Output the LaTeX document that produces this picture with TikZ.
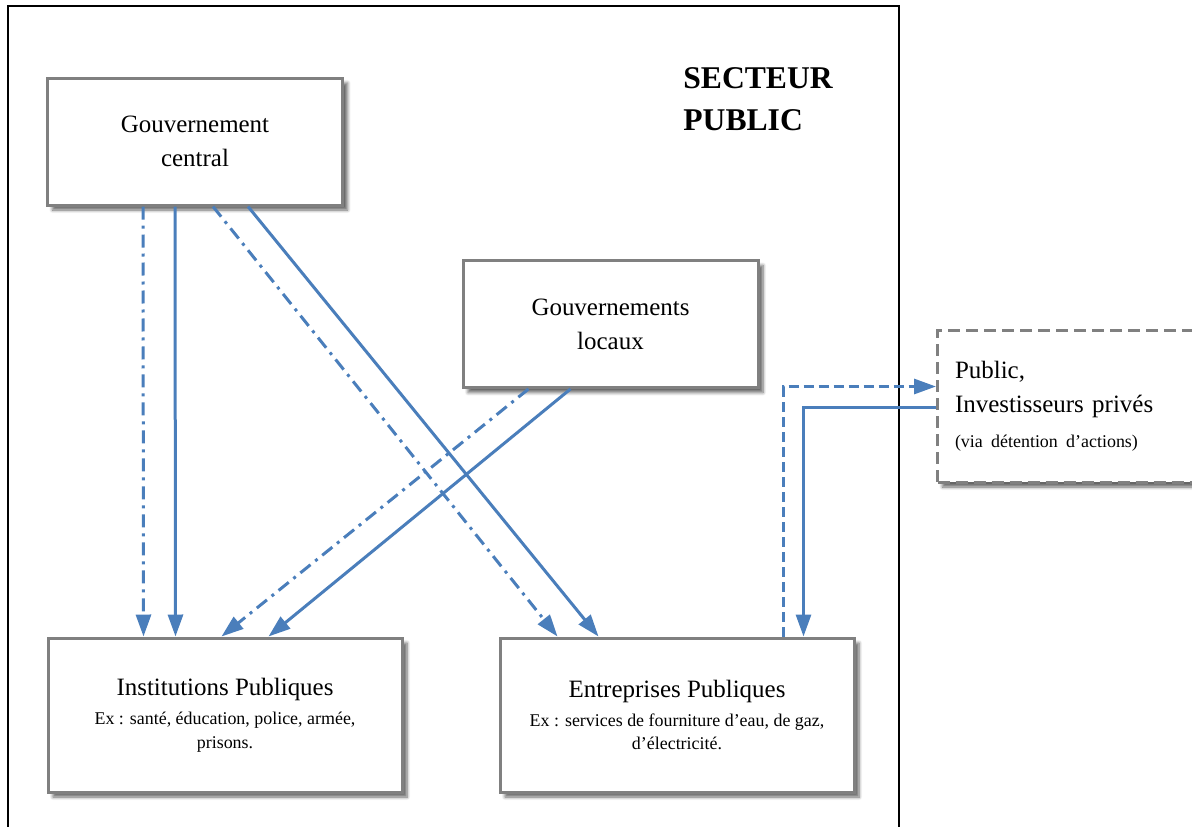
\documentclass[tikz,border=0pt]{standalone}
\usepackage{fontspec}
\setmainfont{Liberation Serif}
\usepackage{xcolor}
\usetikzlibrary{arrows.meta, positioning, shadows.blur}
\definecolor{lineblue}{HTML}{4A7EBB}
\definecolor{boxgray}{HTML}{808080}
\newcommand{\bigtxt}{\fontsize{14.2}{19.4}\selectfont}
\newcommand{\smalltxt}{\fontsize{10.2}{13.6}\selectfont}
\tikzset{
  govbox/.style={rectangle, draw=boxgray, line width=0.06cm, fill=white, minimum width=5.9cm, minimum height=2.54cm, align=center, font=\bigtxt, blur shadow={shadow xshift=0.1cm, shadow yshift=-0.1cm, shadow blur steps=6, shadow opacity=60}},
  instbox/.style={govbox, minimum width=7.08cm, minimum height=3.08cm, font=\smalltxt},
  investbox/.style={govbox, dash pattern=on 0.24cm off 0.12cm, text width=5.2cm, inner xsep=0.16cm, minimum height=3.04cm, align=left},
  arr/.style={-{Triangle[length=0.44cm, width=0.3cm]}, draw=lineblue, line width=0.06cm},
  dashdot/.style={dash pattern=on 0.26cm off 0.12cm on 0.06cm off 0.12cm},
  shortdash/.style={dash pattern=on 0.2cm off 0.1cm},
}

\begin{document}
\begin{tikzpicture}
  \clip (0,0) rectangle (23.84,-16.54);

  % Frame of the public sector
  \draw[line width=0.04cm] (0.16,-0.12) rectangle (17.98,-17.2);
  \node[font=\fontsize{18}{23.9}\selectfont\bfseries, align=left, anchor=west, inner sep=0] (title) at (13.66,-1.98) {SECTEUR\\PUBLIC};

  % Governments
  \node[govbox] (gc) at (3.9,-2.83) {Gouvernement\\central};
  \node[govbox] (gl) at (12.21,-6.48) {Gouvernements\\locaux};

  % Institutions and enterprises
  \node[instbox] (ip) at (4.5,-14.3) {{\bigtxt Institutions Publiques}\\[0.1cm]Ex : santé, éducation, police, armée,\\prisons.};
  \node[instbox, right=1.9cm of ip] (ep) {{\bigtxt Entreprises Publiques}\\[0.1cm]Ex : services de fourniture d’eau, de gaz,\\d’électricité.};

  % Investors
  \node[investbox, anchor=west] (pub) at (18.72,-8.12) {Public,\\Investisseurs privés\\[0.02cm]\smalltxt (via détention d’actions)};

  % Arrows
  \draw[arr, dashdot] ([xshift=1.94cm]gc.south west) -- ([xshift=1.94cm]ip.north west);
  \draw[arr] ([xshift=2.58cm]gc.south west) -- ([xshift=2.58cm]ip.north west);
  \draw[arr, dashdot] ([xshift=3.34cm]gc.south west) -- ([xshift=1.18cm]ep.north west);
  \draw[arr] ([xshift=4.04cm]gc.south west) -- ([xshift=2.0cm]ep.north west);
  \draw[arr, dashdot] ([xshift=1.34cm]gl.south west) -- ([xshift=3.5cm]ip.north west);
  \draw[arr] ([xshift=2.18cm]gl.south west) -- ([xshift=4.44cm]ip.north west);
  \draw[arr, shortdash] ([xshift=5.7cm]ep.north west) |- ([yshift=0.39cm]pub.west);
  \draw[arr] ([yshift=-0.02cm]pub.west) -| ([xshift=6.1cm]ep.north west);
\end{tikzpicture}
\end{document}
